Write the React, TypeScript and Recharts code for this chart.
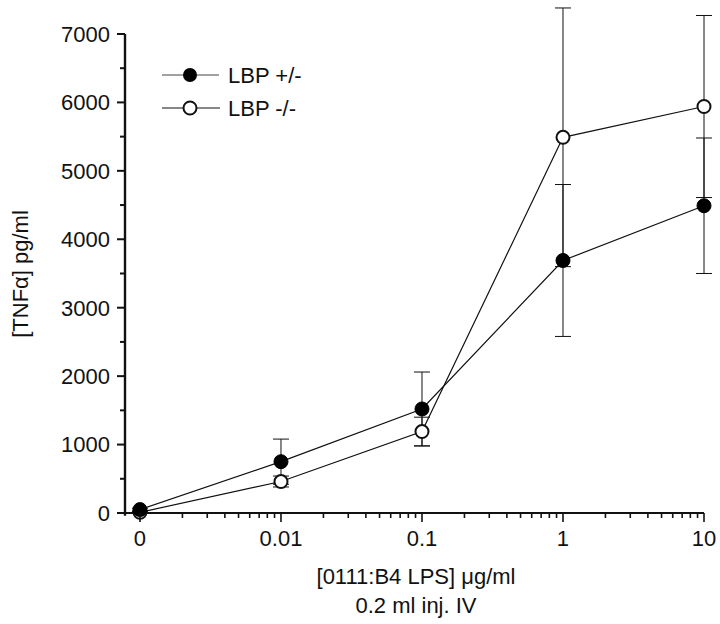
import React from 'react';
import { LineChart, Line, XAxis, YAxis, ErrorBar, ReferenceLine } from 'recharts';

const xValues = [0.001, 0.01, 0.1, 1, 10];
const xMajorLabels: Record<string, string> = { '0.001': '0', '0.01': '0.01', '0.1': '0.1', '1': '1', '10': '10' };
const lbpHet = [50, 750, 1520, 3690, 4490];
const lbpHetErr = [20, 330, 540, 1110, 990];
const lbpKo = [10, 460, 1190, 5490, 5940];
const lbpKoErr = [10, 80, 210, 1890, 1330];
const yTicks = [0, 500, 1000, 1500, 2000, 2500, 3000, 3500, 4000, 4500, 5000, 5500, 6000, 6500, 7000];
const xMinorTicks = [
  0.002, 0.003, 0.004, 0.005, 0.006, 0.007, 0.008, 0.009,
  0.02, 0.03, 0.04, 0.05, 0.06, 0.07, 0.08, 0.09,
  0.2, 0.3, 0.4, 0.5, 0.6, 0.7, 0.8, 0.9,
  2, 3, 4, 5, 6, 7, 8, 9,
];
const X_MIN = 0.000783;
const X_MAX = 10;
const Y_AXIS_TOP = 7000;

const rows = xValues.map((x, i) => ({
  x,
  het: lbpHet[i],
  hetErr: lbpHetErr[i],
  ko: lbpKo[i],
  koErr: lbpKoErr[i],
}));

const FONT = '"Liberation Sans", Arial, Helvetica, sans-serif';
const INK = '#111';

const YTick = (props: any) => {
  const { x, y, payload } = props;
  const v = payload.value;
  const major = v % 1000 === 0;
  return (
    <g>
      <line x1={x - (major ? 8 : 5)} x2={x} y1={y} y2={y} stroke={INK} strokeWidth={2} />
      {major && (
        <text x={x - 15} y={y} dy="0.36em" textAnchor="end" fontSize={22} fontFamily={FONT} fill={INK}>
          {v}
        </text>
      )}
    </g>
  );
};

const XTick = (props: any) => {
  const { x, y, payload } = props;
  const key = String(payload.value);
  const label = xMajorLabels[key];
  const major = label !== undefined;
  return (
    <g>
      <line x1={x} x2={x} y1={y} y2={y + (major ? 9 : 5)} stroke={INK} strokeWidth={1.6} />
      {major && (
        <text x={x} y={y + 33} textAnchor="middle" fontSize={22} fontFamily={FONT} fill={INK}>
          {label}
        </text>
      )}
    </g>
  );
};

export default function App() {
  const allXTicks = [...xValues, ...xMinorTicks].sort((a, b) => a - b);
  return (
    <div style={{ position: 'relative', width: 720, height: 624, background: '#fff' }}>
      <style>{'body{margin:0;}'}</style>
      <LineChart width={720} height={624} data={rows} margin={{ top: 6.6, right: 16, bottom: 71, left: 65 }}>
        <XAxis
          dataKey="x"
          type="number"
          scale="log"
          domain={[X_MIN, X_MAX]}
          ticks={allXTicks}
          interval={0}
          height={40}
          tickSize={0}
          tickMargin={0}
          tickLine={false}
          tick={<XTick />}
          axisLine={{ stroke: INK, strokeWidth: 2.2 }}
        />
        <YAxis
          type="number"
          domain={[0, 7400]}
          ticks={yTicks}
          interval={0}
          width={60}
          tickSize={0}
          tickMargin={0}
          tickLine={false}
          tick={<YTick />}
          axisLine={false}
        />
        <ReferenceLine
          segment={[{ x: X_MIN, y: -40 }, { x: X_MIN, y: Y_AXIS_TOP }]}
          stroke={INK}
          strokeWidth={2.4}
          ifOverflow="visible"
        />
        <Line
          dataKey="ko"
          type="linear"
          stroke={INK}
          strokeWidth={1.2}
          isAnimationActive={false}
          dot={{ r: 6.5, fill: '#fff', stroke: INK, strokeWidth: 2 }}
          activeDot={false}
        >
          <ErrorBar dataKey="koErr" direction="y" width={8} stroke={INK} strokeWidth={1} />
        </Line>
        <Line
          dataKey="het"
          type="linear"
          stroke={INK}
          strokeWidth={1.2}
          isAnimationActive={false}
          dot={{ r: 7, fill: '#000', stroke: '#000', strokeWidth: 1 }}
          activeDot={false}
        >
          <ErrorBar dataKey="hetErr" direction="y" width={8} stroke={INK} strokeWidth={1} />
        </Line>
      </LineChart>
      <svg
        width={720}
        height={624}
        style={{ position: 'absolute', left: 0, top: 0, pointerEvents: 'none' }}
      >
        <line x1={162} x2={219} y1={75} y2={75} stroke="#444" strokeWidth={1} />
        <circle cx={190} cy={75} r={7} fill="#000" />
        <text x={228} y={75} dy="0.36em" fontSize={22} fontFamily={FONT} fill={INK}>LBP +/-</text>
        <line x1={162} x2={220} y1={108} y2={108} stroke={INK} strokeWidth={1.2} />
        <circle cx={190} cy={108} r={6.5} fill="#fff" stroke={INK} strokeWidth={2} />
        <text x={228} y={108} dy="0.36em" fontSize={22} fontFamily={FONT} fill={INK}>LBP -/-</text>
        <text
          x={20}
          y={274}
          transform="rotate(-90 20 274)"
          textAnchor="middle"
          dy="0.36em"
          fontSize={22}
          fontFamily={FONT}
          fill={INK}
        >
          [TNFα] pg/ml
        </text>
        <text x={416} y={584} textAnchor="middle" fontSize={22} fontFamily={FONT} fill={INK}>
          [0111:B4 LPS] μg/ml
        </text>
        <text x={416} y={613} textAnchor="middle" fontSize={22} fontFamily={FONT} fill={INK}>
          0.2 ml inj. IV
        </text>
      </svg>
    </div>
  );
}
